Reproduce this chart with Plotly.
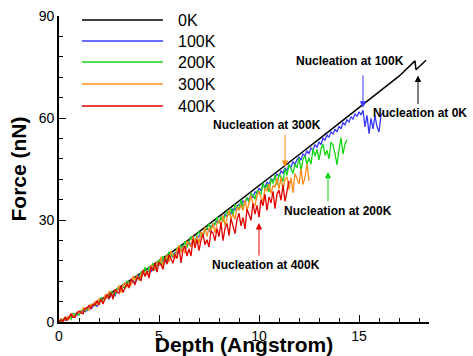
import plotly.graph_objects as go

# ---------------- data ----------------
depth_0K = [0, 1, 2, 3, 4, 5, 6, 7, 8, 9, 10, 11, 12, 13, 14, 15, 16, 17, 17.8, 17.85, 18.35]
force_0K = [0, 2.8, 6.2, 10, 14, 18, 22, 26.5, 31, 35.5, 40, 44.6, 49.2, 53.8, 58.4, 63, 67.6, 72.3, 76.8, 74.2, 77]

depth_step = 0.1  # sampling step of the MD force curves (Angstrom)

force_100K = [
    0.0, 0.6, 0.4, 0.5, 1.3, 1.1, 1.9, 1.4, 2.3, 2.0,
    2.9, 2.6, 3.5, 3.0, 3.4, 4.4, 3.9, 4.7, 5.2, 4.6,
    5.4, 6.5, 6.1, 6.9, 7.4, 6.8, 7.9, 8.3, 7.7, 9.0,
    9.9, 9.2, 10.4, 10.1, 11.2, 10.6, 11.1, 12.1, 11.5, 12.6,
    13.6, 13.0, 14.4, 13.9, 14.2, 15.3, 14.8, 15.9, 15.4, 16.6,
    17.5, 16.9, 18.1, 18.6, 17.9, 19.2, 19.7, 19.1, 20.4, 20.0,
    21.5, 20.8, 22.4, 21.9, 22.6, 23.4, 22.8, 24.1, 23.6, 25.0,
    25.1, 26.3, 25.8, 26.9, 27.5, 26.8, 28.3, 27.9, 29.0, 29.6,
    29.4, 30.8, 30.2, 31.7, 31.1, 32.4, 31.8, 33.3, 32.9, 34.1,
    34.6, 33.9, 35.6, 35.1, 36.5, 36.0, 37.2, 36.6, 38.3, 37.8,
    39.4, 38.6, 40.3, 39.8, 41.2, 40.4, 42.1, 41.6, 42.4, 43.5,
    42.9, 44.4, 43.8, 45.3, 44.6, 46.2, 45.5, 47.1, 46.4, 47.8,
    48.5, 47.6, 49.4, 48.9, 50.3, 49.6, 51.2, 50.5, 52.1, 51.4,
    53.0, 52.2, 54.1, 53.5, 55.0, 54.3, 56.0, 55.2, 56.7, 55.9,
    57.6, 56.8, 58.6, 58.0, 59.5, 58.8, 60.4, 59.6, 61.2, 60.5,
    61.8, 60.9, 62.3, 57.4, 60.8, 55.4, 59.9, 56.8, 60.6, 57.5,
    55.9, 60.9, 61.5,
]

force_200K = [
    0.0, 0.1, 0.8, 1.3, 0.6, 1.4, 0.8, 2.6, 1.9, 2.8,
    2.0, 3.2, 4.0, 3.2, 3.9, 3.5, 5.2, 5.2, 4.8, 6.1,
    5.6, 7.3, 5.7, 7.2, 8.0, 7.1, 9.0, 8.4, 8.1, 9.7,
    10.6, 9.6, 10.7, 9.8, 12.0, 11.7, 11.3, 13.2, 12.4, 13.5,
    12.2, 14.9, 14.3, 16.1, 14.1, 16.2, 15.6, 17.4, 15.2, 17.4,
    18.2, 17.1, 19.4, 17.4, 19.2, 20.7, 19.1, 20.2, 19.2, 21.8,
    21.2, 22.5, 21.5, 23.8, 21.8, 23.6, 25.2, 23.5, 23.4, 25.6,
    26.6, 25.5, 25.0, 27.7, 27.4, 29.0, 27.2, 29.0, 28.7, 30.9,
    29.1, 31.0, 29.5, 31.2, 32.7, 31.4, 33.4, 31.4, 34.5, 34.0,
    33.4, 35.9, 33.8, 35.2, 36.6, 35.2, 37.8, 37.4, 36.1, 38.5,
    38.4, 37.4, 41.0, 38.8, 40.6, 38.3, 42.1, 40.7, 43.3, 40.3,
    43.5, 42.7, 41.3, 45.1, 43.1, 46.3, 45.1, 43.7, 46.5, 45.3,
    48.3, 44.5, 47.9, 48.9, 46.4, 48.3, 46.4, 51.0, 48.7, 50.8,
    47.7, 50.8, 52.4, 49.0, 50.5, 48.0, 52.9, 52.0, 49.5, 46.2,
    50.7, 54.2, 49.4, 52.4, 53.6,
]

force_300K = [
    0.0, 1.1, 0.0, 0.7, 1.6, 0.8, 2.3, 2.1, 1.4, 2.8,
    2.8, 2.6, 4.2, 3.5, 4.3, 3.6, 5.2, 4.9, 6.1, 5.0,
    6.8, 6.4, 5.5, 8.1, 6.9, 9.1, 8.4, 7.5, 9.5, 8.8,
    10.7, 8.6, 10.8, 11.6, 10.2, 11.5, 10.6, 13.5, 12.3, 13.7,
    12.3, 14.1, 15.2, 13.8, 14.8, 13.9, 16.6, 16.4, 15.5, 17.5,
    16.5, 19.2, 16.1, 18.5, 19.6, 17.6, 20.9, 19.5, 18.6, 21.3,
    22.6, 20.5, 22.1, 20.2, 23.8, 23.0, 22.1, 25.2, 23.5, 25.1,
    23.2, 26.5, 25.6, 27.8, 25.1, 27.7, 26.8, 29.0, 26.2, 28.9,
    30.0, 28.2, 31.4, 28.4, 30.8, 32.8, 30.4, 31.8, 30.2, 33.8,
    32.8, 34.4, 32.8, 35.8, 32.8, 35.2, 37.2, 34.6, 34.2, 37.2,
    38.4, 36.6, 35.6, 39.2, 38.6, 40.6, 37.8, 40.2, 39.6, 42.4,
    39.1, 42.6, 39.1, 42.0, 42.7, 38.9, 42.4, 38.0, 43.7, 42.2,
    40.6, 45.1, 40.4, 42.6, 46.5, 41.5,
]

force_400K = [
    0.0, 0.7, 0.2, 1.5, 0.4, 1.5, 2.4, 1.4, 1.4, 2.7,
    3.2, 2.7, 2.4, 4.0, 4.0, 4.9, 4.0, 5.1, 5.0, 6.3,
    5.0, 6.8, 5.3, 6.8, 8.1, 6.9, 8.6, 6.7, 9.5, 8.9,
    8.4, 10.7, 8.7, 10.0, 11.3, 10.0, 12.5, 12.1, 10.9, 13.1,
    13.0, 12.1, 15.3, 13.4, 15.0, 12.9, 16.3, 15.0, 17.4, 14.7,
    17.6, 16.8, 15.5, 18.8, 17.0, 19.8, 18.7, 17.3, 19.8, 18.7,
    21.8, 17.4, 21.2, 22.3, 19.4, 21.5, 19.4, 24.5, 21.8, 24.2,
    21.0, 24.1, 25.9, 22.7, 24.2, 22.0, 26.8, 26.1, 23.9, 27.5,
    25.1, 29.3, 23.9, 27.5, 29.0, 25.4, 30.5, 27.8, 26.0, 30.2,
    32.0, 28.3, 30.8, 27.4, 33.2, 31.6, 29.9, 34.9, 31.7, 34.3,
    30.8, 36.0, 34.2, 37.6, 32.8, 36.8, 35.0, 38.4, 33.3, 37.6,
    38.8, 35.8, 40.3, 35.5, 38.8, 41.5,
]

series_names = ["0K", "100K", "200K", "300K", "400K"]
series_colors = ["#000000", "#3a3aff", "#16d416", "#ff8c1a", "#e00000"]

# nucleation annotations
nuc_labels = ["Nucleation at 0K", "Nucleation at 100K", "Nucleation at 200K",
              "Nucleation at 300K", "Nucleation at 400K"]
nuc_tip_depth = [17.95, 15.2, 13.45, 11.3, 10.0]
nuc_tip_force = [72.5, 63.0, 44.2, 45.6, 29.1]
nuc_label_depth = [18.05, 14.55, 13.95, 10.4, 10.35]
nuc_label_force = [61.6, 76.9, 32.7, 58.0, 16.7]

x_ticks = [0, 5, 10, 15]
y_ticks = [0, 30, 60, 90]

# ---------------- figure ----------------
FONT = "Arial, Liberation Sans, sans-serif"
fig = go.Figure()

fig.add_trace(go.Scatter(x=depth_0K, y=force_0K, mode="lines", name=series_names[0],
                         line=dict(color=series_colors[0], width=1.5), showlegend=False))
for name, color, vals in zip(series_names[1:], series_colors[1:],
                             [force_100K, force_200K, force_300K, force_400K]):
    fig.add_trace(go.Scatter(y=vals, x0=0, dx=depth_step, mode="lines", name=name,
                             line=dict(color=color, width=1.3), showlegend=False))

# manual legend (long line samples like the original)
leg_y_px = [20, 41, 62, 84, 106]
plot_top, plot_bottom = 16, 321.7
for i, (name, color) in enumerate(zip(series_names, series_colors)):
    yp = (plot_bottom - leg_y_px[i]) / (plot_bottom - plot_top)
    fig.add_shape(type="line", xref="paper", yref="paper", x0=0.062, x1=0.281, y0=yp, y1=yp,
                  line=dict(color=color, width=1.5))
    fig.add_annotation(xref="paper", yref="paper", x=0.316, y=yp, text=name, showarrow=False,
                       xanchor="left", yanchor="middle", font=dict(family=FONT, size=16, color="black"))

# arrows and labels
arrow_ay = [30, -34, 31, -34, 34]
for i in range(5):
    fig.add_annotation(x=nuc_tip_depth[i], y=nuc_tip_force[i], ax=0, ay=arrow_ay[i], text="",
                       showarrow=True, arrowhead=2, arrowsize=1.3, arrowwidth=1,
                       arrowcolor=series_colors[i])
    fig.add_annotation(x=nuc_label_depth[i], y=nuc_label_force[i], text="<b>%s</b>" % nuc_labels[i],
                       showarrow=False, font=dict(family=FONT, size=12, color="black"))

fig.update_layout(
    width=473, height=356,
    margin=dict(l=59, r=44, t=16, b=34, pad=0),
    paper_bgcolor="white", plot_bgcolor="white",
    font=dict(family=FONT, color="black"),
    xaxis=dict(range=[0, 18.5], tickvals=x_ticks, ticks="inside", ticklen=7, tickwidth=1.2,
               tickcolor="black", showline=True, linecolor="black", linewidth=1.8,
               showgrid=False, zeroline=False, tickfont=dict(size=14, family=FONT),
               automargin=False,
               minor=dict(dtick=1, ticks="inside", ticklen=4, tickcolor="black", tickwidth=1),
               title=dict(text="<b>Depth (Angstrom)</b>", font=dict(size=21, family=FONT), standoff=0)),
    yaxis=dict(range=[0, 90], tickvals=y_ticks, ticks="inside", ticklen=7, tickwidth=1.2,
               tickcolor="black", showline=True, linecolor="black", linewidth=1.8,
               showgrid=False, zeroline=False, tickfont=dict(size=14, family=FONT),
               automargin=False,
               minor=dict(dtick=6, ticks="inside", ticklen=4, tickcolor="black", tickwidth=1),
               title=dict(text="<b>Force (nN)</b>", font=dict(size=21, family=FONT), standoff=6)),
)

fig.write_html("out.html", config={"displayModeBar": False},
               post_script="document.body.style.margin='0px';")
